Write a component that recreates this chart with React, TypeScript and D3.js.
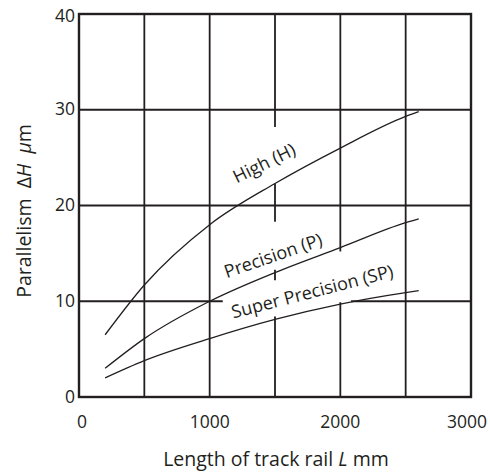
import React from 'react';
import * as d3 from 'd3';

// rail length (mm) and parallelism (µm)
const lengths = [200, 500, 1000, 1500, 2000, 2500, 2600];
const high = [6.5, 11.7, 18.0, 22.3, 26.0, 29.3, 29.8];
const precision = [3.0, 6.1, 10.0, 13.0, 15.6, 18.2, 18.6];
const superPrecision = [2.0, 3.8, 6.1, 8.1, 9.7, 10.9, 11.1];

const xTicks = [0, 1000, 2000, 3000];
const yTicks = [0, 10, 20, 30, 40];
const xGrid = [500, 1000, 1500, 2000, 2500];
const yGrid = [10, 20, 30];

const series = [
  { name: 'High (H)', values: high, at: [1207, 22.3], angle: -26 },
  { name: 'Precision (P)', values: precision, at: [1130, 12.4], angle: -19 },
  { name: 'Super Precision (SP)', values: superPrecision, at: [1181, 8.2], angle: -14.5 },
];

// where grid lines are broken around the curve labels (data units)
const vBreaks: Record<number, [number, number][]> = {
  1500: [[8.4, 12.2], [13.3, 18.3], [22.3, 28.2]],
  2000: [[9.9, 15.2]],
};
const hBreaks: Record<number, [number, number][]> = {
  10: [[1100, 2082]],
};

const W = 490;
const H = 472;
const ink = '#231f20';
const font = '"Open Sans", "DejaVu Sans", sans-serif';

// split [lo, hi] into the visible pieces left after removing the breaks
function pieces(lo: number, hi: number, breaks: [number, number][] = []) {
  const out: [number, number][] = [];
  let start = lo;
  breaks.forEach(([a, b]) => {
    out.push([start, a]);
    start = b;
  });
  out.push([start, hi]);
  return out;
}

export default function App() {
  const x = d3.scaleLinear().domain([0, 3000]).range([79, 471]);
  const y = d3.scaleLinear().domain([0, 40]).range([397, 14]);

  const line = d3
    .line<number>()
    .x((_, i) => x(lengths[i]))
    .y((d) => y(d))
    .curve(d3.curveMonotoneX);

  return (
    <svg
      width={W}
      height={H}
      style={{ position: 'absolute', left: 0, top: 0, background: '#fff' }}
      fontFamily={font}
    >
      {/* grid */}
      {xGrid.map((g) =>
        pieces(0, 40, vBreaks[g]).map(([a, b], i) => (
          <line key={`v${g}-${i}`} x1={x(g)} x2={x(g)} y1={y(a)} y2={y(b)} stroke={ink} strokeWidth={1.8} />
        ))
      )}
      {yGrid.map((g) =>
        pieces(0, 3000, hBreaks[g]).map(([a, b], i) => (
          <line key={`h${g}-${i}`} x1={x(a)} x2={x(b)} y1={y(g)} y2={y(g)} stroke={ink} strokeWidth={1.8} />
        ))
      )}
      {/* frame */}
      <rect x={x(0)} y={y(40)} width={x(3000) - x(0)} height={y(0) - y(40)} fill="none" stroke={ink} strokeWidth={2.4} />

      {/* curves */}
      {series.map((s) => (
        <path key={s.name} d={line(s.values) || ''} fill="none" stroke={ink} strokeWidth={1.3} />
      ))}
      {series.map((s) => (
        <text
          key={`l-${s.name}`}
          transform={`translate(${x(s.at[0])},${y(s.at[1])}) rotate(${s.angle})`}
          fontSize={18}
          fill={ink}
        >
          {s.name}
        </text>
      ))}

      {/* tick labels */}
      {yTicks.map((t) => (
        <text key={`yt${t}`} x={x(0) - 4} y={y(t) + (t === 40 ? 3 : 1)} textAnchor="end" dominantBaseline="middle" fontSize={17.5} fill={ink}>
          {t}
        </text>
      ))}
      {xTicks.map((t) => (
        <text
          key={`xt${t}`}
          x={x(t) + (t === 0 ? 3 : t === 3000 ? -4 : 0)}
          y={428}
          textAnchor="middle"
          fontSize={17.5}
          fill={ink}
        >
          {t}
        </text>
      ))}

      {/* axis titles */}
      <text x={276} y={466} textAnchor="middle" fontSize={19.5} fill={ink}>
        Length of track rail <tspan fontStyle="italic">L</tspan> mm
      </text>
      <text transform="translate(31,211) rotate(-90)" textAnchor="middle" fontSize={19.5} fill={ink}>
        Parallelism{'\u00a0\u00a0'}Δ<tspan fontStyle="italic">H</tspan>{'\u00a0\u00a0'}
        <tspan fontStyle="italic">μ</tspan>m
      </text>
    </svg>
  );
}
